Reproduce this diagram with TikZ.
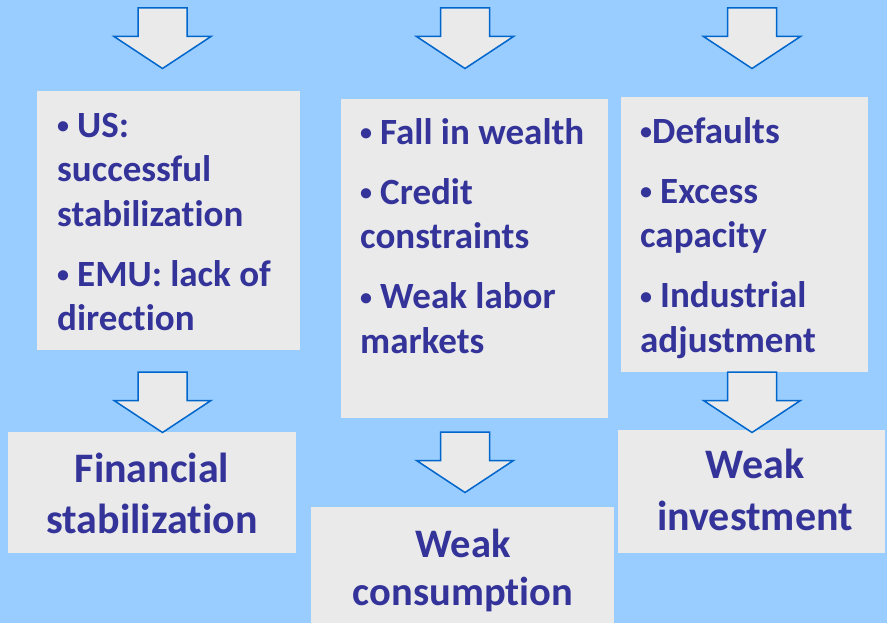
\documentclass[tikz,border=0pt]{standalone}
\usepackage{fontspec}
\setmainfont{Carlito}[Ligatures={NoCommon,NoContextual}]
\definecolor{bgblue}{HTML}{99CCFF}
\definecolor{boxgray}{HTML}{EAEAEA}
\definecolor{txtblue}{HTML}{333399}
\definecolor{arrblue}{HTML}{0066CC}
\tikzset{
  box/.style={fill=boxgray, draw=none, inner sep=0pt, anchor=north west},
  txt/.style={text=txtblue, font=\bfseries, inner sep=0pt},
  blockarrow/.pic={
    \draw[draw=arrblue, fill=boxgray, line width=1.5pt, line join=miter]
      (-24.5,0) -- (24.5,0) -- (24.5,28.5) -- (48.5,28.5) -- (0,60.5)
      -- (-48.5,28.5) -- (-24.5,28.5) -- cycle;
  }
}
\newcommand{\smallbul}{\raisebox{3.5pt}{\fontsize{24}{0}\selectfont •}}
\newcommand{\bu}{\makebox[20pt][l]{\smallbul}}
\newcommand{\bun}{\makebox[12pt][l]{\smallbul}}
\newcommand{\bulletlist}[1]{\parbox[t]{250pt}{\fontsize{37}{44.5}\selectfont\setlength{\parskip}{15.5pt}#1}}
\newcommand{\bigtitle}[3]{\parbox[t]{300pt}{\centering\fontsize{#1}{#2}\selectfont #3}}
\begin{document}
\begin{tikzpicture}[x=1pt,y=-1pt]
\fill[bgblue] (0,0) rectangle (887,623);
\useasboundingbox (0,0) rectangle (887,623);

% boxes
\node[box, minimum width=263pt, minimum height=259pt] (A) at (37,91) {};
\node[box, minimum width=267pt, minimum height=319pt] (B) at (341,99) {};
\node[box, minimum width=247pt, minimum height=275pt] (C) at (621,97) {};
\node[box, minimum width=288pt, minimum height=121pt] (D) at (8,432) {};
\node[box, minimum width=303pt, minimum height=116pt] (E) at (311,507) {};
\node[box, minimum width=267pt, minimum height=123pt] (F) at (618,430) {};

% top arrows
\pic (t1) at (162.5,8) {blockarrow};
\pic (t2) at (465,8) {blockarrow};
\pic (t3) at (752,8) {blockarrow};
% lower arrows
\pic (l1) at (162.5,372) {blockarrow};
\pic (l2) at (465,432) {blockarrow};
\pic (l3) at (752,372) {blockarrow};

% texts
\node[txt, anchor=base west] (At) at (57,137.5) {\bulletlist{\bu US:\\successful\\stabilization\par \bu EMU: lack of\\direction}};
\node[txt, anchor=base west] (Bt) at (360,144.5) {\bulletlist{\bu Fall in wealth\par \bu Credit\\constraints\par \bu Weak labor\\markets}};
\node[txt, anchor=base west] (Ct) at (640,143.5) {\bulletlist{\bun Defaults\par \bu Excess\\capacity\par \bu Industrial\\adjustment}};

\node[txt, anchor=base] (Dt) at (152,482) {\bigtitle{42}{51}{Financial\\stabilization}};
\node[txt, anchor=base] (Et) at (463,557) {\bigtitle{40.5}{48}{Weak\\consumption}};
\node[txt, anchor=base] (Ft) at (755,478) {\bigtitle{42}{52}{Weak\\investment}};
\end{tikzpicture}
\end{document}
